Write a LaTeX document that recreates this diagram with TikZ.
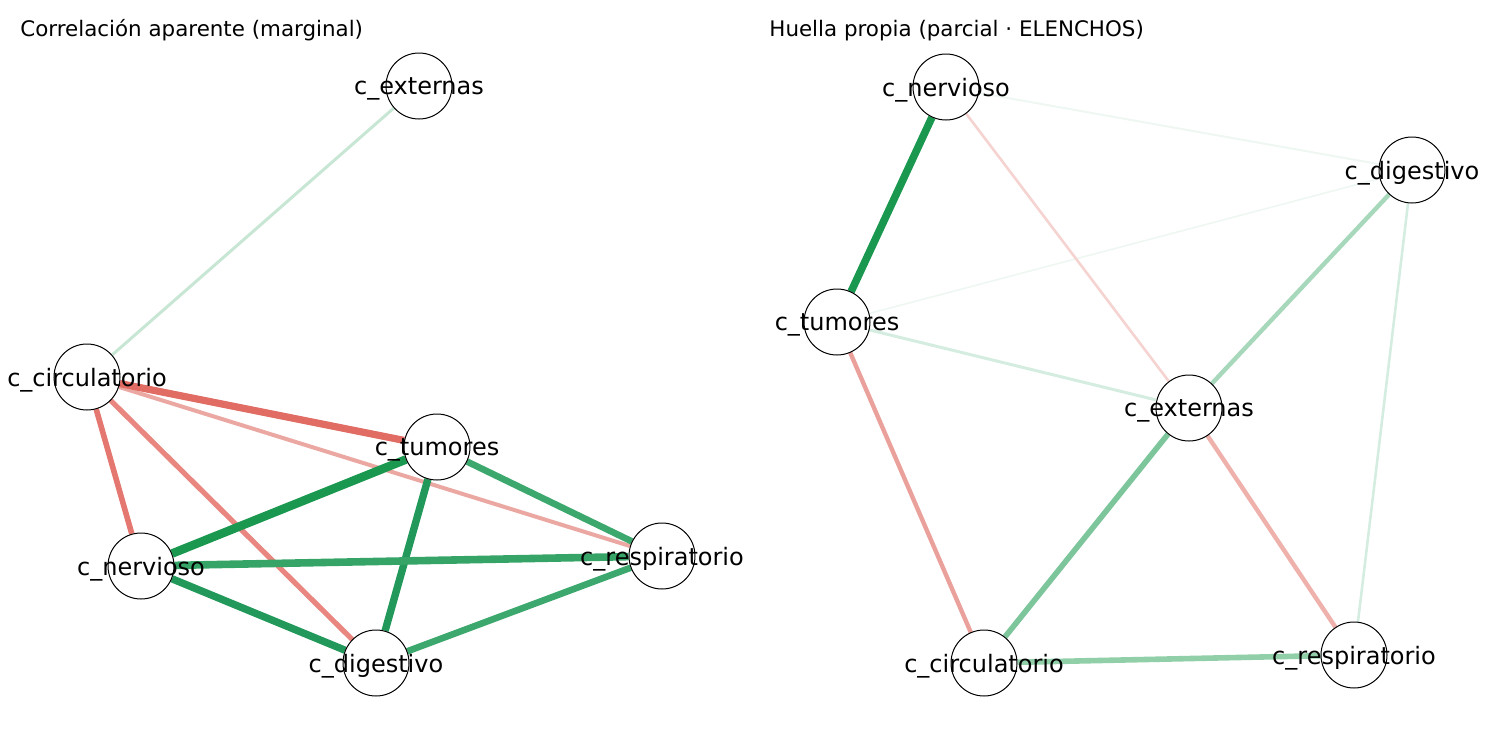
\documentclass[tikz,border=0pt]{standalone}
\usepackage{fontspec}
\setmainfont{DejaVu Sans}
\usetikzlibrary{backgrounds}
\definecolor{rA}{HTML}{E06C64}
\definecolor{rB}{HTML}{E47770}
\definecolor{rC}{HTML}{E8867F}
\definecolor{rD}{HTML}{EBA8A2}
\definecolor{rE}{HTML}{EBA19B}
\definecolor{rF}{HTML}{EFB1AB}
\definecolor{rG}{HTML}{F5D3D0}
\definecolor{gA}{HTML}{1A9850}
\definecolor{gB}{HTML}{22995A}
\definecolor{gC}{HTML}{36A466}
\definecolor{gD}{HTML}{3CA86D}
\definecolor{gE}{HTML}{7DC59B}
\definecolor{gF}{HTML}{91CFA9}
\definecolor{gG}{HTML}{A8D8BB}
\definecolor{gH}{HTML}{C8E6D4}
\definecolor{gI}{HTML}{D5EDE0}
\definecolor{gJ}{HTML}{EEF7F1}
\tikzset{
  vert/.style={circle, draw=black, line width=0.5pt, fill=white, minimum size=33pt, inner sep=0pt},
  lbl/.style={font=\fontsize{12}{12}\selectfont, inner sep=0pt, yshift=-1.5pt},
  ttl/.style={font=\fontsize{10.7}{12}\selectfont, anchor=base west, inner sep=0pt},
  edge/.style={line cap=butt}
}
\begin{document}
\begin{tikzpicture}[x=0.5pt,y=-0.5pt]
\useasboundingbox (0,0) rectangle (1500,750);
% titles
\node[ttl] (t1) at (20,36) {Correlación aparente (marginal)};
\node[ttl] (t2) at (769,36) {Huella propia (parcial · ELENCHOS)};
% left nodes
\node[vert] (Lext) at (419,86) {};
\node[vert] (Lcir) at (87,377) {};
\node[vert] (Ltum) at (437,447) {};
\node[vert] (Lner) at (141,566) {};
\node[vert] (Lres) at (662,556) {};
\node[vert] (Ldig) at (376,663) {};
% right nodes
\node[vert] (Rner) at (946,87) {};
\node[vert] (Rdig) at (1412,170) {};
\node[vert] (Rtum) at (837,322) {};
\node[vert] (Rext) at (1189,408) {};
\node[vert] (Rcir) at (984,663) {};
\node[vert] (Rres) at (1354,655) {};
\begin{scope}[on background layer]
% left edges
\draw[edge, gH, line width=1.5pt] (Lext) -- (Lcir);
\draw[edge, rD, line width=2pt] (Lcir) -- (Lres);
\draw[edge, rA, line width=3.6pt] (Lcir) -- (Ltum);
\draw[edge, rB, line width=2.8pt] (Lcir) -- (Lner);
\draw[edge, rC, line width=2.6pt] (Lcir) -- (Ldig);
\draw[edge, gD, line width=3.3pt] (Ltum) -- (Lres);
\draw[edge, gA, line width=4.3pt] (Ltum) -- (Lner);
\draw[edge, gB, line width=3.7pt] (Ltum) -- (Ldig);
\draw[edge, gC, line width=3.8pt] (Lner) -- (Lres);
\draw[edge, gB, line width=3.7pt] (Lner) -- (Ldig);
\draw[edge, gD, line width=3.3pt] (Ldig) -- (Lres);
% right edges
\draw[edge, gJ, line width=1pt] (Rner) -- (Rdig);
\draw[edge, gJ, line width=0.8pt] (Rtum) -- (Rdig);
\draw[edge, rG, line width=1.3pt] (Rner) -- (Rext);
\draw[edge, gI, line width=1.5pt] (Rtum) -- (Rext);
\draw[edge, gI, line width=1.3pt] (Rdig) -- (Rres);
\draw[edge, gA, line width=3.8pt] (Rner) -- (Rtum);
\draw[edge, rE, line width=2.2pt] (Rtum) -- (Rcir);
\draw[edge, gG, line width=2.2pt] (Rdig) -- (Rext);
\draw[edge, gE, line width=2.8pt] (Rext) -- (Rcir);
\draw[edge, rF, line width=2.2pt] (Rext) -- (Rres);
\draw[edge, gF, line width=2.8pt] (Rcir) -- (Rres);
\end{scope}
% labels
\node[lbl] (lLext) at (Lext) {c\_externas};
\node[lbl] (lLcir) at (Lcir) {c\_circulatorio};
\node[lbl] (lLtum) at (Ltum) {c\_tumores};
\node[lbl] (lLner) at (Lner) {c\_nervioso};
\node[lbl] (lLres) at (Lres) {c\_respiratorio};
\node[lbl] (lLdig) at (Ldig) {c\_digestivo};
\node[lbl] (lRner) at (Rner) {c\_nervioso};
\node[lbl] (lRdig) at (Rdig) {c\_digestivo};
\node[lbl] (lRtum) at (Rtum) {c\_tumores};
\node[lbl] (lRext) at (Rext) {c\_externas};
\node[lbl] (lRcir) at (Rcir) {c\_circulatorio};
\node[lbl] (lRres) at (Rres) {c\_respiratorio};
\end{tikzpicture}
\end{document}
